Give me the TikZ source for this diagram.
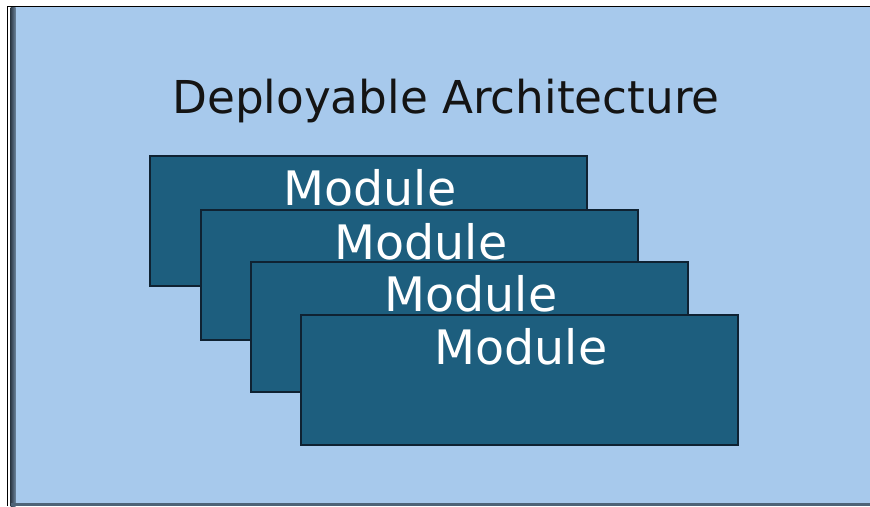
\documentclass[tikz,border=0pt]{standalone}
\usepackage{fontspec}
\setmainfont{DejaVu Sans}
\definecolor{panelblue}{HTML}{A7C9EC}
\definecolor{modfill}{HTML}{1D5E7E}
\definecolor{modedge}{HTML}{0F2232}
\definecolor{frameband}{HTML}{2E3B48}
\definecolor{footband}{HTML}{4E6478}
\tikzset{
  modbox/.style={fill=modfill, draw=modedge, line width=2.8pt},
  modlabel/.style={text=white, font=\fontsize{47.5}{52}\selectfont, anchor=base, inner sep=0pt},
}
\begin{document}
\begin{tikzpicture}[x=1pt,y=-1pt]
\useasboundingbox (0,0) rectangle (870,506);
\fill[white] (0,0) rectangle (870,506);
% light-blue panel
\fill[panelblue] (8,6) rectangle (870,506);
% frame lines
\draw[black, line width=1.2pt] (7.5,506) -- (7.5,6.2) -- (870,6.2);
\fill[white] (8,7) rectangle (10.5,506);
\shade[left color=frameband, right color=frameband!50!panelblue] (10.5,7) rectangle (15.5,506);
\fill[footband] (10.5,503) rectangle (870,506);
% title
\node[inner sep=0pt, anchor=base, font=\fontsize{45.3}{50}\selectfont, text=black!92] (title) at (446,113) {Deployable Architecture};
% stacked module boxes, back to front
\foreach \i/\x/\y in {1/150/156, 2/201/210, 3/251/262, 4/301/315} {
  \draw[modbox] (\x,\y) rectangle ++(437,130);
  \node[modlabel] (mod\i) at (\x+220,\y+49) {Module};
}
\end{tikzpicture}
\end{document}
